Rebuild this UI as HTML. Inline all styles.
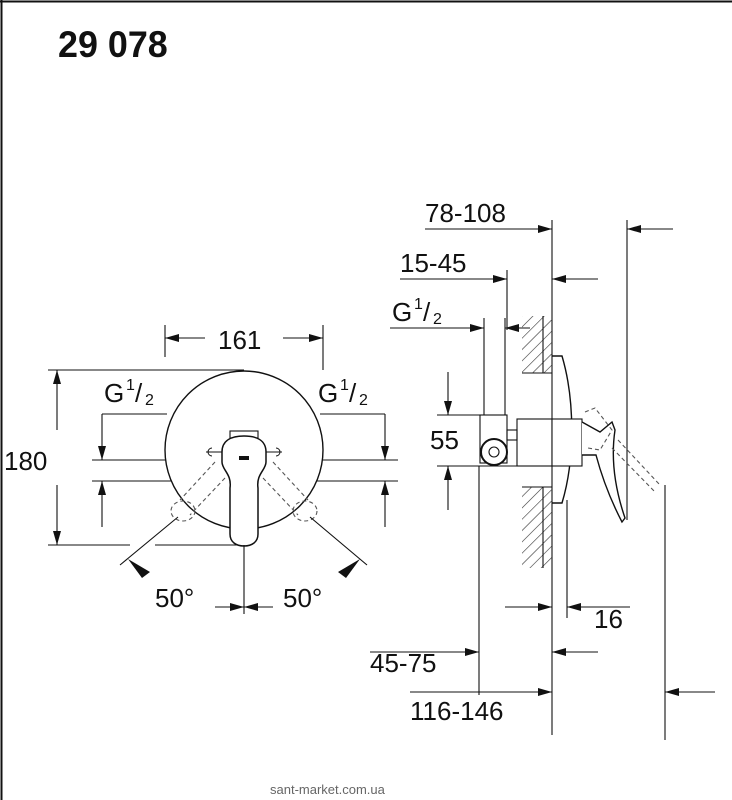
<!DOCTYPE html>
<html><head><style>
html,body{margin:0;padding:0;background:#fff;width:732px;height:800px;overflow:hidden}
svg{display:block}
text{font-family:"Liberation Sans",Arial,sans-serif;fill:#111}
</style></head><body>
<svg width="732" height="800" viewBox="0 0 732 800" xmlns="http://www.w3.org/2000/svg">
<defs>
<marker id="a" viewBox="0 0 14 8" refX="14" refY="4" markerWidth="14" markerHeight="8" markerUnits="userSpaceOnUse" orient="auto"><path d="M0,0 L14,4 L0,8 Z" fill="#111"/></marker>
<pattern id="h" width="8" height="8" patternUnits="userSpaceOnUse" patternTransform="rotate(45)"><line x1="0" y1="0" x2="0" y2="8" stroke="#333" stroke-width="1.2"/></pattern>
</defs>
<rect x="0" y="0" width="732" height="800" fill="#fff"/>
<line x1="1.5" y1="0" x2="1.5" y2="800" stroke="#111" stroke-width="2"/>
<line x1="0" y1="1.5" x2="732" y2="1.5" stroke="#111" stroke-width="2"/>
<text x="58" y="57" font-size="37" font-weight="bold" transform="translate(58 0) scale(0.97 1) translate(-58 0)">29 078</text>

<g stroke="#111" stroke-width="1.1" fill="none">
<line x1="165" y1="325" x2="165" y2="357"/><line x1="323" y1="325" x2="323" y2="370"/>
<line x1="205" y1="338" x2="165" y2="338" marker-end="url(#a)"/>
<line x1="283" y1="338" x2="323" y2="338" marker-end="url(#a)"/>
<line x1="48" y1="370" x2="244" y2="370"/>
<line x1="48" y1="545" x2="130" y2="545"/><line x1="155" y1="545" x2="240" y2="545"/>
<line x1="57" y1="430" x2="57" y2="370" marker-end="url(#a)"/>
<line x1="57" y1="485" x2="57" y2="545" marker-end="url(#a)"/>
<line x1="92" y1="460" x2="398" y2="460"/><line x1="92" y1="481" x2="398" y2="481"/>
<line x1="102" y1="414" x2="167" y2="414"/><line x1="320" y1="414" x2="385" y2="414"/>
<line x1="102" y1="414" x2="102" y2="460" marker-end="url(#a)"/>
<line x1="102" y1="527" x2="102" y2="481" marker-end="url(#a)"/>
<line x1="385" y1="414" x2="385" y2="460" marker-end="url(#a)"/>
<line x1="385" y1="527" x2="385" y2="481" marker-end="url(#a)"/>
<circle cx="244" cy="450" r="79" stroke-width="1.4" fill="#fff"/>
<g stroke-dasharray="4,3" stroke="#555">
<line x1="215" y1="462" x2="180" y2="500"/><line x1="225" y1="478" x2="190" y2="515"/>
<line x1="273" y1="462" x2="308" y2="500"/><line x1="263" y1="478" x2="298" y2="515"/>
<ellipse cx="183" cy="511" rx="12" ry="10"/><ellipse cx="305" cy="511" rx="12" ry="10"/>
</g>
<rect x="230" y="431" width="28" height="52" fill="#fff"/>
<path d="M206,452 h76 M212,448 a4,4 0 1 0 0,8 M276,448 a4,4 0 1 1 0,8" stroke-width="1"/>
<path d="M222,452 C222,440 232,436 244,436 C256,436 266,440 266,452 L266,462 C266,470 256,474 258,488 L258,534 C258,542 252,546 244,546 C236,546 230,542 230,534 L230,488 C232,474 222,470 222,462 Z" fill="#fff" stroke-width="1.5"/>
<rect x="239" y="456" width="10" height="4" fill="#111" stroke="none"/>
<line x1="178" y1="517" x2="120" y2="565"/><line x1="310" y1="517" x2="367" y2="565"/>
<path d="M128,559 L150,572 L142,578 Z" fill="#111" stroke="none"/>
<path d="M360,559 L338,572 L346,578 Z" fill="#111" stroke="none"/>
<line x1="244" y1="545" x2="244" y2="614"/>
<line x1="215" y1="607" x2="244" y2="607" marker-end="url(#a)"/>
<line x1="273" y1="607" x2="244" y2="607" marker-end="url(#a)"/>

<line x1="552" y1="220" x2="552" y2="735"/>
<line x1="627" y1="220" x2="627" y2="520"/>
<line x1="425" y1="229" x2="552" y2="229" marker-end="url(#a)"/>
<line x1="673" y1="229" x2="627" y2="229" marker-end="url(#a)"/>
<line x1="507" y1="270" x2="507" y2="330"/>
<line x1="400" y1="279" x2="507" y2="279" marker-end="url(#a)"/>
<line x1="598" y1="279" x2="552" y2="279" marker-end="url(#a)"/>
<line x1="390" y1="328" x2="484" y2="328" marker-end="url(#a)"/>
<line x1="530" y1="328" x2="505" y2="328" marker-end="url(#a)"/>
<line x1="484" y1="318" x2="484" y2="415"/><line x1="505" y1="318" x2="505" y2="415"/>
<rect x="522" y="316" width="30" height="57" fill="url(#h)" stroke="none"/>
<rect x="522" y="487" width="30" height="81" fill="url(#h)" stroke="none"/>
<line x1="543" y1="316" x2="543" y2="373"/><line x1="543" y1="487" x2="543" y2="568"/>
<line x1="522" y1="373" x2="552" y2="373"/><line x1="522" y1="487" x2="552" y2="487"/>
<path d="M552,356 L562,356 C575,400 575,460 562,503 L552,503" stroke-width="1.4"/>
<rect x="517" y="419" width="35" height="47" fill="#fff"/>
<rect x="552" y="419" width="30" height="47" fill="#fff"/>
<rect x="480" y="415" width="27" height="48" fill="#fff"/>
<circle cx="494" cy="452" r="13" stroke-width="2" fill="#fff"/><circle cx="494" cy="452" r="5"/>
<rect x="507" y="430" width="10" height="10"/>
<path d="M582,422 L600,432 L612,422 L615,430 C612,450 612,480 625,518 L622,522 C608,495 600,470 596,455 L582,455" stroke-width="1.4" fill="#fff"/>
<g stroke-dasharray="4,3" stroke="#555">
<path d="M585,412 L595,408 L612,430 L600,450 L588,448"/>
<line x1="618" y1="440" x2="660" y2="485"/><line x1="612" y1="448" x2="655" y2="492"/>
</g>
<line x1="437" y1="415" x2="480" y2="415"/><line x1="437" y1="466" x2="517" y2="466"/>
<line x1="448" y1="372" x2="448" y2="415" marker-end="url(#a)"/>
<line x1="448" y1="510" x2="448" y2="466" marker-end="url(#a)"/>
<line x1="567" y1="500" x2="567" y2="618"/>
<line x1="505" y1="607" x2="552" y2="607" marker-end="url(#a)"/>
<line x1="630" y1="607" x2="567" y2="607" marker-end="url(#a)"/>
<line x1="479" y1="466" x2="479" y2="695"/>
<line x1="370" y1="652" x2="479" y2="652" marker-end="url(#a)"/>
<line x1="598" y1="652" x2="552" y2="652" marker-end="url(#a)"/>
<line x1="665" y1="485" x2="665" y2="740"/>
<line x1="410" y1="692" x2="552" y2="692" marker-end="url(#a)"/>
<line x1="715" y1="692" x2="665" y2="692" marker-end="url(#a)"/>
</g>

<g font-size="26">
<text x="218" y="349">161</text>
<text x="4" y="470">180</text>
<text x="104" y="402">G</text><text x="126" y="390" font-size="16">1</text><text x="135" y="402">/</text><text x="145" y="405" font-size="16">2</text>
<text x="318" y="402">G</text><text x="340" y="390" font-size="16">1</text><text x="349" y="402">/</text><text x="359" y="405" font-size="16">2</text>
<text x="155" y="607">50°</text>
<text x="283" y="607">50°</text>
<text x="425" y="222">78-108</text>
<text x="400" y="272">15-45</text>
<text x="392" y="321">G</text><text x="414" y="309" font-size="16">1</text><text x="423" y="321">/</text><text x="433" y="324" font-size="16">2</text>
<text x="430" y="449">55</text>
<text x="594" y="628">16</text>
<text x="370" y="672">45-75</text>
<text x="410" y="720">116-146</text>
</g>
<text x="270" y="794" font-size="13" style="fill:#666">sant-market.com.ua</text>
</svg>
</body></html>
